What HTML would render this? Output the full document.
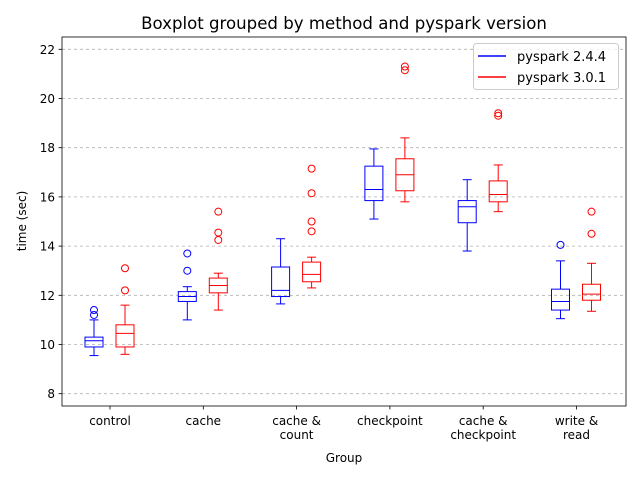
<!DOCTYPE html>
<html><head><meta charset="utf-8"><style>
body{margin:0;background:#fff}
svg text{font-family:"DejaVu Sans","Liberation Sans",sans-serif;fill:#000}
</style></head><body>
<svg id="chart" width="640" height="480" viewBox="0 0 640 480" xmlns="http://www.w3.org/2000/svg">
<rect width="640" height="480" fill="#fff"/>
<text x="344" y="29" font-size="16.6" text-anchor="middle">Boxplot grouped by method and pyspark version</text>
<g id="grid"></g><g id="boxes"></g><g id="axes"></g>
<text x="344" y="462" font-size="12" text-anchor="middle">Group</text>
<text transform="translate(26,221) rotate(-90)" font-size="12" text-anchor="middle">time (sec)</text>
<g>
<rect x="473.5" y="43.5" width="145" height="46" rx="3" fill="#fff" fill-opacity="0.8" stroke="#ccc"/>
<line x1="478" y1="56" x2="506" y2="56" stroke="blue" stroke-width="1.5"/>
<text x="517" y="61" font-size="13">pyspark 2.4.4</text>
<line x1="478" y1="77" x2="506" y2="77" stroke="red" stroke-width="1.5"/>
<text x="517" y="82" font-size="13">pyspark 3.0.1</text>
</g>
</svg>
<script>
const categories = [["control"],["cache"],["cache &","count"],["checkpoint"],["cache &","checkpoint"],["write &","read"]];
const yTicks = [8,10,12,14,16,18,20,22];
// [whislo, q1, median, q3, whishi]
const blueStats = [[9.55,9.9,10.15,10.3,11.0],[11.0,11.75,11.95,12.15,12.35],[11.65,11.95,12.2,13.15,14.3],[15.1,15.85,16.3,17.25,17.95],[13.8,14.95,15.6,15.85,16.7],[11.05,11.4,11.75,12.25,13.4]];
const redStats = [[9.6,9.9,10.45,10.8,11.6],[11.4,12.1,12.4,12.7,12.9],[12.3,12.55,12.85,13.35,13.55],[15.8,16.25,16.9,17.55,18.4],[15.4,15.8,16.1,16.65,17.3],[11.35,11.8,12.05,12.45,13.3]];
const blueFliers = [[11.2,11.4],[13.0,13.7],[],[],[],[14.05]];
const redFliers = [[12.2,13.1],[14.25,14.55,15.4],[14.6,15.0,16.15,17.15],[21.15,21.3],[19.3,19.4],[14.5,15.4]];

const L=62,R=626,T=37,B=406,ymin=7.5,ymax=22.5;
const y=v=>B-(v-ymin)/(ymax-ymin)*(B-T);
const xc=i=>110+i*93.3;
const NS="http://www.w3.org/2000/svg";
function mk(tag,attrs,parent){const e=document.createElementNS(NS,tag);for(const k in attrs)e.setAttribute(k,attrs[k]);parent.appendChild(e);return e;}
const grid=document.getElementById('grid'),boxes=document.getElementById('boxes'),axes=document.getElementById('axes');
yTicks.forEach(t=>{
  const yy=y(t);
  const g=mk('line',{x1:L,x2:R,y1:yy,y2:yy,stroke:'#b0b0b0','stroke-dasharray':'3,3','stroke-width':0.8},grid);
  
  
  mk('line',{x1:L-3.5,x2:L,y1:yy,y2:yy,stroke:'#000','stroke-width':0.8},axes);
  const tx=mk('text',{x:L-7,y:yy+4.5,'font-size':12,'text-anchor':'end'},axes);
  tx.textContent=t;
  
  
});
categories.forEach((c,i)=>{
  const x=xc(i);
  mk('line',{x1:x,x2:x,y1:B,y2:B+3.5,stroke:'#000','stroke-width':0.8},axes);
  c.forEach((ln,j)=>{
    const tx=mk('text',{x:x,y:425+j*14,'font-size':12,'text-anchor':'middle'},axes);
    tx.textContent=ln;
    
    
  });
});
mk('rect',{x:L,y:T,width:R-L,height:B-T,fill:'none',stroke:'#000','stroke-width':0.8},axes);
function drawBox(s,fl,cx,color,name){
  const g=mk('g',{stroke:color,fill:'none','stroke-width':1},boxes);
  
  
  const w=18,cw=9;
  mk('rect',{x:cx-w/2,y:y(s[3]),width:w,height:y(s[1])-y(s[3])},g);
  mk('line',{x1:cx-w/2,x2:cx+w/2,y1:y(s[2]),y2:y(s[2])},g);
  mk('line',{x1:cx,x2:cx,y1:y(s[1]),y2:y(s[0])},g);
  mk('line',{x1:cx,x2:cx,y1:y(s[3]),y2:y(s[4])},g);
  mk('line',{x1:cx-cw/2,x2:cx+cw/2,y1:y(s[0]),y2:y(s[0])},g);
  mk('line',{x1:cx-cw/2,x2:cx+cw/2,y1:y(s[4]),y2:y(s[4])},g);
  fl.forEach(v=>{mk('circle',{cx:cx,cy:y(v),r:3.5},g);});
}
categories.forEach((c,i)=>{
  drawBox(blueStats[i],blueFliers[i],xc(i)-16,'blue','box-pyspark-2-4-4');
  drawBox(redStats[i],redFliers[i],xc(i)+15,'red','box-pyspark-3-0-1');
});
</script>
</body></html>
